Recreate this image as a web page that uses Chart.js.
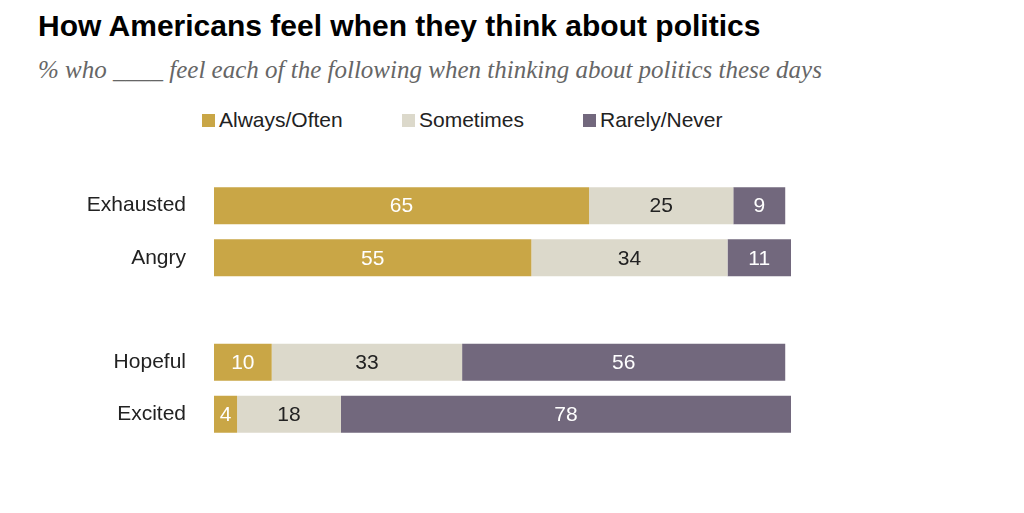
<!DOCTYPE html>
<html>
<head>
<meta charset="utf-8">
<script src="https://cdn.jsdelivr.net/npm/chart.js@4/dist/chart.umd.min.js"></script>
<style>
  body { margin: 0; background: #fff; width: 1024px; height: 513px; position: relative; overflow: hidden; font-family: "Liberation Sans", Arial, sans-serif; }
  #title { position: absolute; left: 38px; top: 9px; font-size: 30px; font-weight: bold; color: #000; }
  #subtitle { position: absolute; left: 38px; top: 56px; font-family: "Liberation Serif", "DejaVu Serif", serif; font-style: italic; font-size: 25px; color: #666; }
  #legend { position: absolute; top: 108px; left: 0; font-size: 21px; color: #222; }
  .item { position: absolute; white-space: nowrap; }
  .box { display: inline-block; width: 13px; height: 13px; margin-right: 4px; vertical-align: 0px; }
  #chart { position: absolute; left: 0; top: 147px; }
</style>
</head>
<body>
<div id="title">How Americans feel when they think about politics</div>
<div id="subtitle">% who ____ feel each of the following when thinking about politics these days</div>
<div id="legend"></div>
<canvas id="chart" width="1024" height="326"></canvas>
<script>
const categories = ['Exhausted', 'Angry', '', 'Hopeful', 'Excited'];
const alwaysOften = [65, 55, null, 10, 4];
const sometimes = [25, 34, null, 33, 18];
const rarelyNever = [9, 11, null, 56, 78];

const seriesNames = ['Always/Often', 'Sometimes', 'Rarely/Never'];
const colors = ['#c9a646', '#dcd9cb', '#72687d'];
const labelColors = ['#ffffff', '#222222', '#ffffff'];
const legendX = [202, 402, 583];

const legendEl = document.getElementById('legend');
seriesNames.forEach((name, i) => {
    const d = document.createElement('div');
    d.className = 'item';
    d.style.left = legendX[i] + 'px';
    d.innerHTML = '<span class="box" style="background:' + colors[i] + '"></span>' + name;
    legendEl.appendChild(d);
});

const barLabels = {
    id: 'barLabels',
    afterDatasetsDraw(chart) {
        const ctx = chart.ctx;
        ctx.save();
        ctx.font = '21px "Liberation Sans", Arial, sans-serif';
        ctx.textAlign = 'center';
        ctx.textBaseline = 'middle';
        chart.data.datasets.forEach((ds, di) => {
            chart.getDatasetMeta(di).data.forEach((bar, i) => {
                const v = ds.data[i];
                if (v == null) return;
                ctx.fillStyle = labelColors[di];
                ctx.fillText(v, (bar.x + bar.base) / 2, bar.y + 1);
            });
        });
        ctx.restore();
    }
};

const makeSet = (label, data, i) => ({
    label: label,
    data: data,
    backgroundColor: colors[i],
    borderWidth: 0,
    barPercentage: 0.71,
    categoryPercentage: 1
});

new Chart(document.getElementById('chart'), {
    type: 'bar',
    data: {
        labels: categories,
        datasets: [
            makeSet(seriesNames[0], alwaysOften, 0),
            makeSet(seriesNames[1], sometimes, 1),
            makeSet(seriesNames[2], rarelyNever, 2)
        ]
    },
    options: {
        indexAxis: 'y',
        responsive: false,
        animation: false,
        devicePixelRatio: 1,
        layout: { padding: { left: 0, right: 233, top: 0, bottom: 0 } },
        scales: {
            x: { stacked: true, min: 0, max: 100, display: false },
            y: {
                stacked: true,
                grid: { display: false },
                border: { display: false },
                ticks: { color: '#222', font: { size: 21, family: '"Liberation Sans", Arial, sans-serif' }, padding: 20 },
                afterFit: (scale) => { scale.width = 214; }
            }
        },
        plugins: {
            legend: { display: false },
            tooltip: { enabled: false }
        }
    },
    plugins: [barLabels]
});
</script>
</body>
</html>
